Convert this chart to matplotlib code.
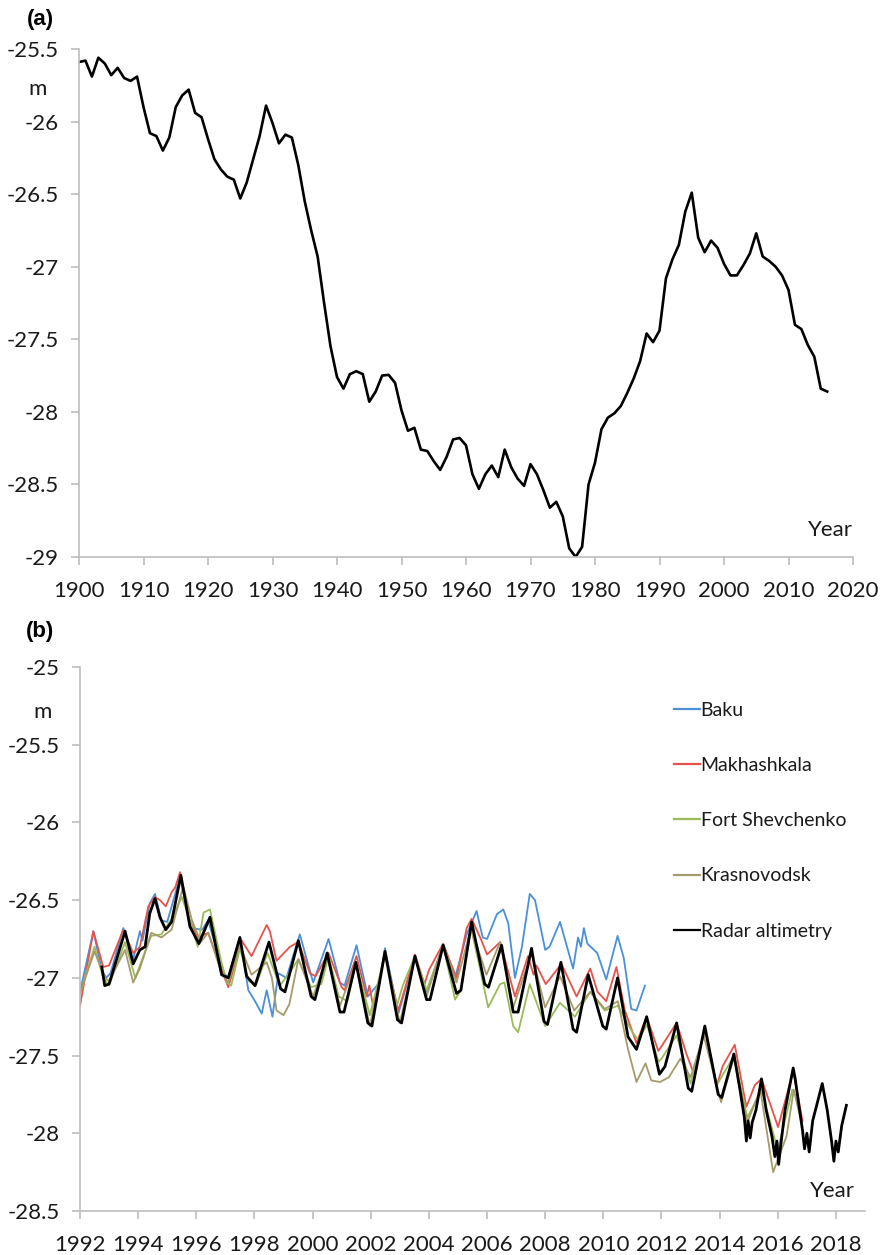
import matplotlib
matplotlib.use("Agg")
import matplotlib.pyplot as plt

plt.rcParams['font.family'] = ['Lato', 'DejaVu Sans']

# (a) annual mean level 1900-2016
years = list(range(1900, 2017))
level = [-25.59, -25.58, -25.69, -25.56, -25.60, -25.68, -25.63, -25.70, -25.72, -25.69,
         -25.90, -26.08, -26.10, -26.20, -26.11, -25.90, -25.82, -25.78, -25.94, -25.97,
         -26.12, -26.26, -26.33, -26.38, -26.40, -26.53, -26.42, -26.26, -26.10, -25.89,
         -26.01, -26.15, -26.09, -26.11, -26.30, -26.55, -26.75, -26.93, -27.25, -27.55,
         -27.76, -27.84, -27.74, -27.72, -27.74, -27.93, -27.86, -27.75, -27.745, -27.80,
         -27.99, -28.13, -28.11, -28.26, -28.27, -28.34, -28.40, -28.31, -28.19, -28.18,
         -28.23, -28.43, -28.53, -28.43, -28.37, -28.45, -28.26, -28.38, -28.46, -28.51,
         -28.36, -28.43, -28.54, -28.66, -28.62, -28.72, -28.94, -29.00, -28.93, -28.50,
         -28.35, -28.12, -28.04, -28.01, -27.96, -27.87, -27.77, -27.65, -27.46, -27.52,
         -27.44, -27.08, -26.95, -26.85, -26.62, -26.49, -26.80, -26.90, -26.82, -26.87,
         -26.98, -27.06, -27.06, -26.99, -26.91, -26.77, -26.93, -26.96, -27.00, -27.06,
         -27.16, -27.40, -27.43, -27.54, -27.62, -27.84, -27.86]

# (b) station and altimetry records (decimal year, level)
baku = [(1992.0, -27.09), (1992.46, -26.70), (1992.75, -26.95), (1992.9, -27.0), (1993.05, -26.97),
        (1993.49, -26.68), (1993.83, -26.88), (1994.06, -26.70), (1994.15, -26.76), (1994.4, -26.52),
        (1994.58, -26.46), (1994.8, -26.63), (1995.0, -26.64), (1995.44, -26.35), (1995.8, -26.68),
        (1996.2, -26.69), (1996.41, -26.63), (1996.9, -26.96), (1997.1, -27.0), (1997.5, -26.74),
        (1997.79, -27.08), (1998.02, -27.15), (1998.25, -27.23), (1998.42, -27.08), (1998.62, -27.25),
        (1998.82, -26.97), (1999.1, -27.0), (1999.56, -26.72), (2000.02, -27.03), (2000.55, -26.75),
        (2000.94, -27.03), (2001.1, -27.05), (2001.51, -26.79), (2001.9, -27.12), (2002.3, -27.03),
        (2002.49, -26.81), (2002.95, -27.23), (2003.52, -26.86), (2003.92, -27.10), (2004.49, -26.79),
        (2004.9, -27.0), (2005.3, -26.72), (2005.64, -26.57), (2005.85, -26.74), (2006.0, -26.75),
        (2006.34, -26.59), (2006.56, -26.56), (2006.73, -26.65), (2006.96, -27.0), (2007.2, -26.8),
        (2007.47, -26.46), (2007.65, -26.50), (2008.0, -26.82), (2008.15, -26.80), (2008.51, -26.64),
        (2008.96, -26.94), (2009.13, -26.74), (2009.23, -26.80), (2009.33, -26.68), (2009.45, -26.78),
        (2009.79, -26.84), (2010.1, -27.01), (2010.49, -26.73), (2010.7, -26.87), (2010.96, -27.20),
        (2011.14, -27.21), (2011.43, -27.05)]

makhachkala = [(1992.0, -27.18), (1992.46, -26.70), (1992.8, -26.93), (1993.0, -26.92), (1993.49, -26.69),
               (1993.83, -26.84), (1994.06, -26.80), (1994.35, -26.54), (1994.58, -26.48), (1994.75, -26.50),
               (1994.95, -26.54), (1995.15, -26.45), (1995.27, -26.42), (1995.44, -26.32), (1995.72, -26.61),
               (1996.06, -26.74), (1996.41, -26.71), (1996.87, -26.95), (1997.1, -27.06), (1997.56, -26.76),
               (1997.9, -26.86), (1998.42, -26.66), (1998.53, -26.70), (1998.76, -26.89), (1999.22, -26.80),
               (1999.51, -26.77), (1999.91, -26.97), (2000.1, -26.99), (2000.55, -26.84), (2001.0, -27.06),
               (2001.1, -27.08), (2001.51, -26.86), (2001.86, -27.12), (2001.95, -27.05), (2002.1, -27.20),
               (2002.49, -26.85), (2002.95, -27.21), (2003.52, -26.85), (2003.85, -27.04), (2004.0, -26.95),
               (2004.49, -26.78), (2004.95, -27.00), (2005.3, -26.68), (2005.47, -26.62), (2005.81, -26.76),
               (2006.0, -26.85), (2006.45, -26.77), (2006.96, -27.12), (2007.41, -26.86), (2007.6, -26.98),
               (2007.7, -26.92), (2008.02, -27.04), (2008.56, -26.91), (2009.08, -27.12), (2009.55, -26.94),
               (2009.8, -27.09), (2010.1, -27.15), (2010.45, -26.93), (2010.74, -27.21), (2011.14, -27.42),
               (2011.49, -27.25), (2011.89, -27.47), (2012.0, -27.44), (2012.52, -27.29), (2012.86, -27.49),
               (2013.1, -27.61), (2013.49, -27.33), (2013.89, -27.70), (2014.1, -27.57), (2014.52, -27.43),
               (2014.92, -27.83), (2015.21, -27.69), (2015.44, -27.65), (2016.01, -27.96), (2016.53, -27.60),
               (2016.85, -27.92)]

fort_shevchenko = [(1992.0, -27.10), (1992.5, -26.80), (1992.8, -27.0), (1993.0, -27.05), (1993.55, -26.77),
                   (1993.9, -27.0), (1994.1, -26.9), (1994.45, -26.73), (1994.8, -26.72), (1995.15, -26.62),
                   (1995.5, -26.48), (1995.8, -26.64), (1996.05, -26.80), (1996.25, -26.58), (1996.47, -26.56),
                   (1996.84, -26.88), (1997.05, -27.03), (1997.2, -27.05), (1997.5, -26.81), (1997.8, -27.02),
                   (1998.05, -27.05), (1998.45, -26.84), (1998.87, -27.05), (1999.2, -26.97), (1999.51, -26.88),
                   (1999.95, -27.06), (2000.3, -27.04), (2000.55, -26.86), (2000.9, -27.12), (2001.2, -27.15),
                   (2001.49, -26.90), (2001.97, -27.24), (2002.49, -26.85), (2002.9, -27.18), (2003.1, -27.05),
                   (2003.52, -26.86), (2003.92, -27.08), (2004.49, -26.79), (2004.9, -27.14), (2005.1, -27.08),
                   (2005.45, -26.68), (2005.7, -26.89), (2006.04, -27.19), (2006.45, -27.04), (2006.6, -27.03),
                   (2006.9, -27.31), (2007.07, -27.35), (2007.47, -27.04), (2008.0, -27.31), (2008.51, -27.16),
                   (2009.02, -27.25), (2009.55, -27.09), (2010.05, -27.21), (2010.5, -27.18), (2011.0, -27.35),
                   (2011.2, -27.40), (2011.5, -27.30), (2011.9, -27.54), (2012.0, -27.52), (2012.52, -27.37),
                   (2013.0, -27.68), (2013.5, -27.33), (2013.9, -27.69), (2014.5, -27.50), (2014.95, -27.90),
                   (2015.44, -27.72), (2016.0, -28.11), (2016.5, -27.72)]

krasnovodsk = [(1992.0, -27.10), (1992.5, -26.83), (1992.85, -27.0), (1993.0, -27.02), (1993.55, -26.82),
               (1993.83, -27.03), (1994.06, -26.94), (1994.45, -26.71), (1994.8, -26.74), (1995.15, -26.69),
               (1995.55, -26.41), (1995.85, -26.63), (1996.15, -26.77), (1996.41, -26.71), (1996.87, -26.97),
               (1997.1, -27.03), (1997.5, -26.79), (1997.9, -26.98), (1998.42, -26.90), (1998.6, -27.0),
               (1998.76, -27.21), (1999.0, -27.24), (1999.2, -27.17), (1999.51, -26.88), (2000.02, -27.12),
               (2000.5, -26.86), (2000.94, -27.18), (2001.49, -26.90), (2001.97, -27.31), (2002.49, -26.83),
               (2003.0, -27.29), (2003.52, -26.86), (2003.92, -27.12), (2004.49, -26.78), (2004.95, -27.03),
               (2005.45, -26.68), (2005.98, -26.98), (2006.45, -26.77), (2006.9, -27.19), (2007.53, -26.84),
               (2008.0, -27.19), (2008.51, -26.99), (2009.0, -27.21), (2009.55, -27.09), (2010.05, -27.20),
               (2010.5, -27.15), (2010.85, -27.46), (2011.14, -27.67), (2011.45, -27.55), (2011.65, -27.66),
               (2011.95, -27.67), (2012.25, -27.64), (2012.65, -27.52), (2013.0, -27.64), (2013.45, -27.37),
               (2014.05, -27.80), (2014.49, -27.51), (2014.95, -27.93), (2015.4, -27.72), (2015.84, -28.25),
               (2016.3, -28.02), (2016.55, -27.72), (2016.8, -27.92)]

radar = [(1992.75, -26.93), (1992.85, -27.05), (1993.0, -27.04), (1993.55, -26.70), (1993.83, -26.91),
         (1994.06, -26.82), (1994.24, -26.80), (1994.4, -26.585), (1994.58, -26.49), (1994.75, -26.61),
         (1994.95, -26.69), (1995.15, -26.64), (1995.47, -26.34), (1995.78, -26.67), (1996.09, -26.78),
         (1996.47, -26.61), (1996.87, -26.98), (1997.1, -27.00), (1997.5, -26.74), (1997.73, -26.99),
         (1998.02, -27.05), (1998.5, -26.77), (1998.9, -27.07), (1999.05, -27.09), (1999.51, -26.76),
         (1999.95, -27.12), (2000.08, -27.14), (2000.5, -26.84), (2000.94, -27.22), (2001.08, -27.22),
         (2001.49, -26.90), (2001.9, -27.29), (2002.04, -27.31), (2002.49, -26.83), (2002.92, -27.27),
         (2003.06, -27.29), (2003.52, -26.86), (2003.92, -27.14), (2004.04, -27.14), (2004.49, -26.79),
         (2004.95, -27.10), (2005.1, -27.08), (2005.47, -26.64), (2005.92, -27.04), (2006.05, -27.06),
         (2006.5, -26.79), (2006.9, -27.22), (2007.07, -27.22), (2007.53, -26.81), (2007.96, -27.28),
         (2008.08, -27.30), (2008.54, -26.90), (2008.96, -27.33), (2009.08, -27.35), (2009.48, -26.98),
         (2009.98, -27.31), (2010.1, -27.33), (2010.49, -27.00), (2010.85, -27.38), (2011.14, -27.46),
         (2011.49, -27.25), (2011.93, -27.62), (2012.12, -27.57), (2012.52, -27.29), (2012.92, -27.71),
         (2013.04, -27.73), (2013.49, -27.31), (2013.95, -27.75), (2014.07, -27.77), (2014.49, -27.49),
         (2014.7, -27.72), (2014.85, -27.90), (2014.92, -28.05), (2014.98, -27.92), (2015.05, -28.03),
         (2015.12, -27.93), (2015.25, -27.85), (2015.44, -27.65), (2015.6, -27.85), (2015.8, -28.02),
         (2015.9, -28.15), (2015.97, -28.05), (2016.03, -28.20), (2016.1, -28.08), (2016.25, -27.85),
         (2016.53, -27.58), (2016.6, -27.65), (2016.75, -27.85), (2016.85, -27.98), (2016.92, -28.10),
         (2017.0, -28.00), (2017.08, -28.12), (2017.2, -27.92), (2017.53, -27.68), (2017.7, -27.85),
         (2017.85, -28.05), (2017.93, -28.18), (2018.0, -28.05), (2018.08, -28.12), (2018.2, -27.95),
         (2018.36, -27.82)]

series_b = [("Baku", baku, "#4A90D9", 1.3),
            ("Makhashkala", makhachkala, "#E5534B", 1.3),
            ("Fort Shevchenko", fort_shevchenko, "#9BBB59", 1.3),
            ("Krasnovodsk", krasnovodsk, "#A59A6A", 1.3),
            ("Radar altimetry", radar, "black", 2.0)]

W, H = 883, 1255
fig = plt.figure(figsize=(W / 100, H / 100), dpi=100)
axis_grey = "#bdbdbd"
txt = "#1a1a1a"
fs = 16


def style(ax):
    for s in ["top", "right"]:
        ax.spines[s].set_visible(False)
    for s in ["left", "bottom"]:
        ax.spines[s].set_color(axis_grey)
        ax.spines[s].set_linewidth(1.2)
    ax.tick_params(axis="both", colors=axis_grey, labelcolor=txt, labelsize=fs,
                   length=5.5, width=1.2, direction="out")
    ax.tick_params(axis="x", pad=12)
    ax.tick_params(axis="y", pad=9)


# panel (a)
ax1 = fig.add_axes([79 / W, 1 - 557 / H, (853 - 79) / W, (557 - 49) / H])
ax1.plot(years, level, color="black", lw=1.9)
ax1.set_xlim(1900, 2020)
ax1.set_ylim(-29, -25.5)
ax1.set_xticks(range(1900, 2021, 10))
ax1.set_yticks([-29, -28.5, -28, -27.5, -27, -26.5, -26, -25.5])
ax1.set_yticklabels(["-29", "-28.5", "-28", "-27.5", "-27", "-26.5", "-26", "-25.5"])
style(ax1)
fig.text(38 / W, 1 - 89 / H, "m", ha="center", va="center", fontsize=fs, color=txt)
fig.text(830 / W, 1 - 530 / H, "Year", ha="center", va="center", fontsize=fs, color=txt)
fig.text(40 / W, 1 - 20 / H, "(a)", ha="center", va="center", fontsize=16,
         fontweight="bold", family="Liberation Sans")

# panel (b)
ax2 = fig.add_axes([80 / W, 1 - 1211 / H, (865 - 80) / W, (1211 - 667) / H])
for name, data, col, lw in series_b:
    t = [p[0] for p in data]
    v = [p[1] for p in data]
    ax2.plot(t, v, color=col, lw=lw, label=name)
ax2.set_xlim(1992, 2019)
ax2.set_ylim(-28.5, -25)
ax2.set_xticks(range(1992, 2019, 2))
ax2.set_yticks([-28.5, -28, -27.5, -27, -26.5, -26, -25.5, -25])
ax2.set_yticklabels(["-28.5", "-28", "-27.5", "-27", "-26.5", "-26", "-25.5", "-25"])
style(ax2)
leg = ax2.legend(loc="upper left", bbox_to_anchor=(656 / W, 1 - 684 / H), bbox_transform=fig.transFigure,
                 frameon=False, fontsize=14, handlelength=1.35, handletextpad=0.05, labelspacing=1.97)
for text in leg.get_texts():
    text.set_color(txt)
for line in leg.get_lines():
    line.set_linewidth(1.6)
fig.text(43 / W, 1 - 712 / H, "m", ha="center", va="center", fontsize=fs, color=txt)
fig.text(832 / W, 1 - 1191 / H, "Year", ha="center", va="center", fontsize=fs, color=txt)
fig.text(40 / W, 1 - 632 / H, "(b)", ha="center", va="center", fontsize=16,
         fontweight="bold", family="Liberation Sans")

fig.savefig("out.png", dpi=100)
